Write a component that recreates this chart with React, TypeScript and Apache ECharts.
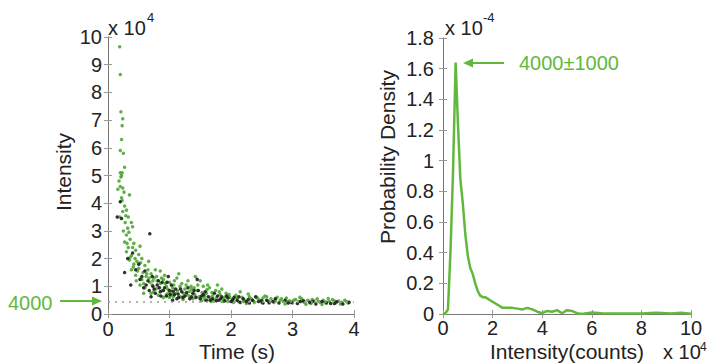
import React, { useEffect, useRef } from "react";
import * as echarts from "echarts";

// Left panel: intensity (x 10^4) versus time (s)
const greenPoints: [number, number][] = [
  [0.19, 9.65], [0.2, 8.65], [0.21, 7.3], [0.24, 7.05], [0.23, 6.8], [0.22, 6.3], [0.2, 5.9], [0.25, 5.8],
  [0.2, 5.1], [0.22, 5.0], [0.23, 5.1], [0.27, 5.3], [0.21, 4.95], [0.16, 4.5], [0.2, 4.6], [0.24, 4.55],
  [0.26, 4.4], [0.35, 4.3], [0.22, 4.2], [0.27, 3.9], [0.24, 3.7], [0.3, 3.75], [0.19, 3.5], [0.33, 3.5],
  [0.28, 3.3], [0.38, 3.3], [0.32, 3.1], [0.25, 3.0], [0.4, 3.15], [0.3, 2.85], [0.36, 2.7], [0.27, 2.6],
  [0.42, 2.55], [0.33, 2.4], [0.3, 2.25], [0.45, 2.3], [0.38, 2.1], [0.5, 2.15], [0.35, 1.95], [0.47, 1.9],
  [0.55, 2.0], [0.42, 1.8], [0.6, 1.75], [0.5, 1.65], [0.38, 1.6], [0.65, 1.6], [0.57, 1.5], [0.7, 1.45],
  [0.45, 1.4], [0.62, 1.35], [0.75, 1.3], [0.55, 1.25], [0.8, 1.2], [0.68, 1.15], [0.9, 1.25], [0.72, 1.05],
  [0.85, 1.1], [0.95, 1.0], [0.6, 0.95], [1.0, 1.15], [0.78, 0.9], [1.05, 0.95], [0.88, 0.85], [1.12, 1.3],
  [0.7, 0.75], [1.2, 1.1], [0.95, 0.7], [1.25, 0.9], [1.3, 1.2], [1.0, 0.6], [1.35, 1.0], [1.42, 1.35],
  [1.1, 0.75], [1.45, 0.85], [1.5, 1.2], [1.18, 0.62], [1.55, 1.0], [1.28, 0.7], [1.6, 0.75], [1.38, 0.55],
  [1.65, 0.95], [1.7, 0.65], [1.48, 0.62], [1.75, 0.85], [1.78, 1.05], [1.58, 0.5], [1.82, 0.7], [1.88, 0.55],
  [1.68, 0.45], [1.92, 0.75], [1.98, 0.6], [2.02, 0.5], [2.08, 0.68], [2.12, 0.45], [2.18, 0.6], [2.22, 0.5],
  [2.28, 0.72], [2.33, 0.55], [2.38, 0.42], [2.42, 0.6], [2.48, 0.5], [2.55, 0.65], [2.6, 0.48], [2.65, 0.55],
  [2.7, 0.42], [2.75, 0.6], [2.8, 0.5], [2.85, 0.45], [2.9, 0.58], [2.95, 0.48], [3.0, 0.4], [3.05, 0.52],
  [3.1, 0.45], [3.15, 0.55], [3.2, 0.42], [3.25, 0.5], [3.3, 0.38], [3.35, 0.48], [3.4, 0.55], [3.45, 0.42],
  [3.5, 0.5], [3.55, 0.38], [3.6, 0.45], [3.65, 0.52], [3.7, 0.4], [3.75, 0.47], [3.8, 0.42], [3.85, 0.5],
  [3.9, 0.4], [0.85, 1.55], [1.15, 1.45], [1.4, 0.95], [1.62, 1.05], [1.02, 0.82], [0.92, 1.4], [0.66, 1.9],
  [0.52, 2.45], [0.48, 1.55], [2.58, 0.62], [3.12, 0.6], [3.58, 0.56], [2.15, 0.8], [1.85, 0.9], [0.82, 0.68],
  [1.22, 0.52], [1.52, 0.48], [1.72, 0.5], [0.58, 1.1], [0.77, 1.6], [0.97, 0.9], [1.08, 1.2], [1.33, 0.82],
  [1.57, 0.65], [1.95, 0.45], [2.25, 0.38], [2.5, 0.42], [2.88, 0.36], [3.22, 0.35], [3.48, 0.34], [3.78, 0.36],
  [0.18, 4.8], [0.23, 4.1], [0.29, 3.55], [0.34, 2.95], [0.31, 2.55], [0.4, 2.4], [0.36, 2.05], [0.44, 2.0],
  [0.41, 1.7], [0.53, 1.85], [0.46, 1.2], [0.52, 1.05], [0.63, 1.45], [0.67, 1.3], [0.73, 1.2], [0.79, 1.35],
  [0.84, 0.95], [0.87, 1.3], [0.93, 1.1], [0.98, 0.75], [1.04, 0.7], [1.07, 1.05], [1.13, 0.85], [1.17, 1.0],
  [1.23, 0.75], [1.27, 1.05], [1.32, 0.65], [1.36, 0.9], [1.41, 0.7], [1.46, 1.05], [1.53, 0.78], [1.56, 0.58],
  [1.61, 0.88], [1.66, 0.6], [1.69, 0.78], [1.76, 0.58], [1.81, 0.8], [1.87, 0.45], [1.91, 0.62], [1.97, 0.7],
  [2.04, 0.42], [2.1, 0.58], [2.2, 0.45], [2.3, 0.62], [2.36, 0.48], [2.44, 0.55], [2.52, 0.58], [2.62, 0.4],
  [2.72, 0.5], [2.82, 0.55], [2.92, 0.44], [3.02, 0.5], [3.18, 0.44], [3.32, 0.52], [3.42, 0.46], [3.52, 0.44],
  [3.68, 0.48], [3.88, 0.45], [0.58, 0.75], [0.74, 0.8], [0.9, 0.6], [1.06, 0.62],
];

const blackPoints: [number, number][] = [
  [0.2, 4.05], [0.15, 3.5], [0.68, 2.9], [0.27, 1.5], [0.37, 1.05], [0.22, 3.45], [0.4, 2.2], [0.5, 1.8],
  [0.55, 1.35], [0.6, 1.55], [0.65, 1.2], [0.72, 1.35], [0.75, 0.9], [0.8, 1.05], [0.85, 0.8], [0.88, 1.15],
  [0.92, 0.95], [0.95, 0.65], [1.0, 0.85], [1.03, 1.05], [1.08, 0.7], [1.1, 0.9], [1.15, 0.6], [1.2, 0.8],
  [1.25, 0.65], [1.3, 0.95], [1.33, 0.55], [1.38, 0.75], [1.43, 0.6], [1.47, 0.85], [1.5, 0.55], [1.55, 0.7],
  [1.6, 0.5], [1.63, 0.62], [1.7, 0.55], [1.73, 0.75], [1.8, 0.5], [1.85, 0.62], [1.9, 0.48], [1.95, 0.58],
  [2.0, 0.45], [2.05, 0.6], [2.1, 0.5], [2.15, 0.42], [2.2, 0.55], [2.25, 0.45], [2.3, 0.4], [2.35, 0.5],
  [2.45, 0.45], [2.52, 0.4], [2.58, 0.5], [2.68, 0.45], [2.78, 0.4], [2.88, 0.5], [2.98, 0.42], [3.08, 0.38],
  [3.18, 0.48], [3.28, 0.42], [3.38, 0.36], [3.48, 0.45], [3.62, 0.38], [3.72, 0.44], [3.82, 0.36], [3.92, 0.42],
  [1.45, 1.25], [0.98, 1.35], [1.78, 0.65], [0.7, 0.62], [1.12, 0.55], [2.4, 0.62], [1.05, 0.5], [0.83, 0.95],
  [0.32, 2.0], [0.45, 1.6], [0.52, 1.25], [0.58, 0.95], [0.62, 1.05], [0.67, 0.85], [0.73, 1.0], [0.77, 0.75],
  [0.82, 1.2], [0.86, 0.65], [0.9, 0.85], [0.96, 1.15], [1.01, 0.7], [1.06, 0.82], [1.14, 0.72], [1.18, 0.9],
  [1.22, 0.6], [1.28, 0.78], [1.36, 0.62], [1.4, 0.85], [1.52, 0.65], [1.58, 0.8], [1.66, 0.5], [1.76, 0.48],
  [1.83, 0.55], [1.93, 0.65], [2.03, 0.52], [2.13, 0.62], [2.28, 0.52], [2.5, 0.48], [2.62, 0.42], [2.72, 0.55],
  [2.93, 0.4], [3.13, 0.45], [3.33, 0.45], [3.55, 0.42], [3.68, 0.38],
];

const thresholdIntensity = 0.43; // 4000 counts, in units of 10^4

// Right panel: probability density (x 10^-4) versus intensity (x 10^4 counts)
const densityIntensity = [
  0, 0.1, 0.2, 0.3, 0.4, 0.51, 0.6, 0.7, 0.8, 0.9, 1.0, 1.1, 1.2, 1.3, 1.4, 1.5, 1.6, 1.7, 1.8, 1.9, 2.0,
  2.2, 2.4, 2.6, 2.8, 3.0, 3.2, 3.4, 3.6, 3.8, 4.0, 4.2, 4.4, 4.6, 4.8, 5.0, 5.2, 5.4, 5.6, 6.0, 6.4, 7.0,
  8.0, 8.6, 9.2, 9.6, 10,
];
const densityValue = [
  0, 0.005, 0.03, 0.4, 0.9, 1.64, 1.25, 0.88, 0.72, 0.52, 0.38, 0.3, 0.26, 0.2, 0.15, 0.12, 0.11, 0.11, 0.1,
  0.09, 0.08, 0.06, 0.04, 0.04, 0.04, 0.035, 0.03, 0.04, 0.03, 0.015, 0.005, 0.02, 0.015, 0.025, 0.005, 0.025,
  0.02, 0.005, 0, 0.01, 0.005, 0.003, 0.003, 0.008, 0.003, 0.008, 0.002,
];

const xTimeRange = [0, 4];
const yIntensityRange = [0, 10];
const xCountsRange = [0, 10];
const yDensityRange = [0, 1.8];

const FONT = "Liberation Sans, Arial, Helvetica, sans-serif";
const TEXT = "#222";
const BOX = "#777";
const GREEN = "#62b83c";

function axisBase(show: boolean, margin: number) {
  return {
    axisLine: { show: true, lineStyle: { color: BOX, width: 1 } },
    axisTick: { show: true, inside: true, length: 4, lineStyle: { color: "#999" } },
    axisLabel: { show, color: TEXT, fontSize: 20, fontFamily: FONT, margin },
    splitLine: { show: false },
  };
}

export default function App() {
  const ref = useRef<HTMLDivElement>(null);
  useEffect(() => {
    document.body.style.margin = "0";
    const chart = echarts.init(ref.current!, null, { renderer: "svg" });
    const density = densityIntensity.map((x, i) => [x, densityValue[i]]);
    const option: any = {
      animation: false,
      backgroundColor: "#fff",
      grid: [
        { left: 108, top: 37, width: 246, height: 277 },
        { left: 443, top: 38, width: 248, height: 276 },
      ],
      xAxis: [
        { type: "value", gridIndex: 0, min: xTimeRange[0], max: xTimeRange[1], interval: 1, ...axisBase(true, 5) },
        { type: "value", gridIndex: 0, position: "top", min: xTimeRange[0], max: xTimeRange[1], interval: 1, ...axisBase(false, 8) },
        { type: "value", gridIndex: 1, min: xCountsRange[0], max: xCountsRange[1], interval: 2, ...axisBase(true, 4) },
        { type: "value", gridIndex: 1, position: "top", min: xCountsRange[0], max: xCountsRange[1], interval: 2, ...axisBase(false, 8) },
      ],
      yAxis: [
        { type: "value", gridIndex: 0, min: yIntensityRange[0], max: yIntensityRange[1], interval: 1, ...axisBase(true, 6) },
        { type: "value", gridIndex: 0, position: "right", min: yIntensityRange[0], max: yIntensityRange[1], interval: 1, ...axisBase(false, 8) },
        { type: "value", gridIndex: 1, min: yDensityRange[0], max: yDensityRange[1], interval: 0.2, ...axisBase(true, 9),
          axisLabel: { show: true, color: TEXT, fontSize: 20, fontFamily: FONT, margin: 9, formatter: (v: number) => String(Math.round(v * 10) / 10) } },
        { type: "value", gridIndex: 1, position: "right", min: yDensityRange[0], max: yDensityRange[1], interval: 0.2, ...axisBase(false, 8) },
      ],
      series: [
        {
          type: "scatter", xAxisIndex: 0, yAxisIndex: 0, data: greenPoints, symbolSize: 3.5,
          itemStyle: { color: "#4fa833", opacity: 0.9 },
          markLine: {
            silent: true, symbol: "none", label: { show: false },
            lineStyle: { color: "#9a9a9a", type: [2, 5], width: 1.5 },
            data: [{ yAxis: thresholdIntensity }],
          },
        },
        {
          type: "scatter", xAxisIndex: 0, yAxisIndex: 0, data: blackPoints, symbolSize: 3.5,
          itemStyle: { color: "#1c1c1c", opacity: 0.9 },
        },
        {
          type: "line", xAxisIndex: 2, yAxisIndex: 2, data: density, showSymbol: false, symbol: "none",
          lineStyle: { color: GREEN, width: 2.5 },
        },
      ],
      graphic: [
        { type: "text", x: 108, y: 28, style: { text: "x 10", fontSize: 20, fontFamily: FONT, fill: TEXT, verticalAlign: "middle" } },
        { type: "text", x: 147, y: 17, style: { text: "4", fontSize: 13, fontFamily: FONT, fill: TEXT, verticalAlign: "middle" } },
        { type: "text", x: 445, y: 28, style: { text: "x 10", fontSize: 20, fontFamily: FONT, fill: TEXT, verticalAlign: "middle" } },
        { type: "text", x: 483, y: 17, style: { text: "-4", fontSize: 13, fontFamily: FONT, fill: TEXT, verticalAlign: "middle" } },
        { type: "text", x: 663, y: 351.5, style: { text: "x 10", fontSize: 20, fontFamily: FONT, fill: TEXT, verticalAlign: "middle" } },
        { type: "text", x: 700, y: 347, style: { text: "4", fontSize: 12, fontFamily: FONT, fill: TEXT, verticalAlign: "middle" } },
        { type: "text", x: 237, y: 351.5, style: { text: "Time (s)", fontSize: 21, fontFamily: FONT, fill: TEXT, align: "center", verticalAlign: "middle" } },
        { type: "text", x: 567, y: 351.5, style: { text: "Intensity(counts)", fontSize: 21, fontFamily: FONT, fill: TEXT, align: "center", verticalAlign: "middle" } },
        { type: "text", x: 63, y: 172, rotation: Math.PI / 2, style: { text: "Intensity", fontSize: 21, fontFamily: FONT, fill: TEXT, align: "center", verticalAlign: "middle" } },
        { type: "text", x: 387, y: 157, rotation: Math.PI / 2, style: { text: "Probability Density", fontSize: 21, fontFamily: FONT, fill: TEXT, align: "center", verticalAlign: "middle" } },
        { type: "text", x: 8, y: 303, style: { text: "4000", fontSize: 20, fontFamily: FONT, fill: GREEN, verticalAlign: "middle" } },
        { type: "line", shape: { x1: 60, y1: 301, x2: 94, y2: 301 }, style: { stroke: GREEN, lineWidth: 2 } },
        { type: "polygon", shape: { points: [[102, 301], [92, 296.5], [92, 305.5]] }, style: { fill: GREEN } },
        { type: "text", x: 519, y: 63, style: { text: "4000±1000", fontSize: 20, fontFamily: FONT, fill: GREEN, verticalAlign: "middle" } },
        { type: "line", shape: { x1: 471, y1: 63, x2: 504, y2: 63 }, style: { stroke: GREEN, lineWidth: 2 } },
        { type: "polygon", shape: { points: [[463, 63], [473, 58.5], [473, 67.5]] }, style: { fill: GREEN } },
      ],
    };
    chart.setOption(option);
    return () => chart.dispose();
  }, []);
  return <div ref={ref} style={{ width: 715, height: 363 }} />;
}
